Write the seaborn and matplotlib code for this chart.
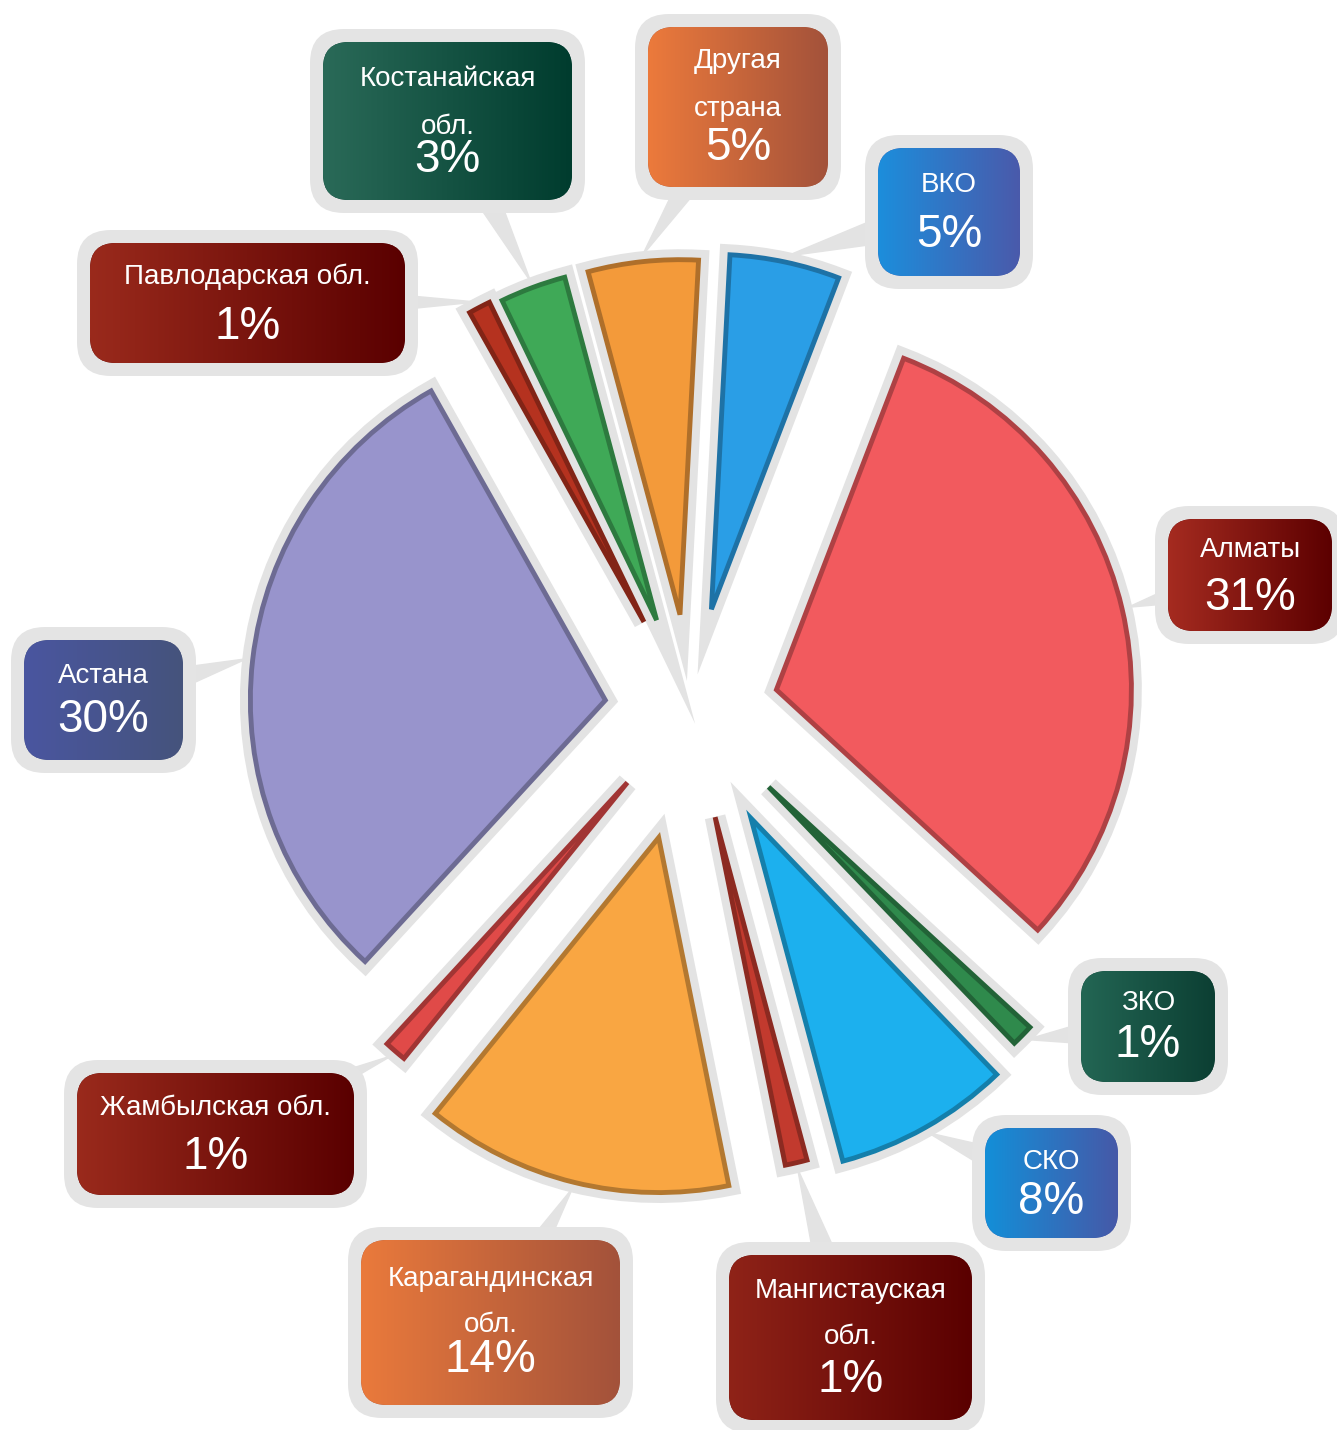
import numpy as np
import matplotlib
matplotlib.use('Agg')
import matplotlib.pyplot as plt
from matplotlib.patches import FancyBboxPatch, Polygon
from matplotlib.colors import LinearSegmentedColormap, to_rgb
import seaborn as sns

sns.set_theme(style='white')
plt.rcParams['font.family'] = ['Liberation Sans', 'DejaVu Sans']

# данные (по часовой стрелке от верхней точки)
regions = ['Другая\nстрана', 'ВКО', 'Алматы', 'ЗКО', 'СКО',
           'Мангистауская\nобл.', 'Карагандинская\nобл.', 'Жамбылская обл.',
           'Астана', 'Павлодарская обл.', 'Костанайская\nобл.']
shares = [5, 5, 31, 1, 8, 1, 14, 1, 30, 1, 3]

slice_colors = ['#f39a3a', '#2a9ee6', '#f25a5e', '#2f8a4c', '#1cb0ee', '#c23a2e',
                '#f9a642', '#e04a48', '#9894cc', '#b5321f', '#3fa957']
box_left = ['#ec7a3c', '#1c8edc', '#a52b20', '#236654', '#138fd8', '#8f2318',
            '#ea7a3c', '#9a2a1c', '#4a56a0', '#9a2a1c', '#2a6a58']
box_right = ['#a3523a', '#4a5aab', '#5c0000', '#0c3f33', '#4659a8', '#5a0000',
             '#a3523a', '#5a0000', '#45537c', '#5a0000', '#003c2e']
explode = [0.27, 0.29, 0.25, 0.31, 0.35, 0.31, 0.37, 0.27, 0.24, 0.28, 0.27]

# расположение выносок в пикселях: x0, y0, x1, y1, y подписи, y процента
boxes = [(648, 27, 828, 187, 85, 148),
         (878, 148, 1020, 276, 185, 235),
         (1168, 519, 1332, 631, 550, 598),
         (1081, 971, 1215, 1082, 1003, 1045),
         (985, 1128, 1118, 1238, 1162, 1202),
         (729, 1255, 972, 1420, 1314, 1380),
         (361, 1240, 620, 1405, 1302, 1360),
         (77, 1073, 354, 1195, 1108, 1157),
         (24, 640, 183, 760, 676, 720),
         (90, 243, 405, 363, 277, 327),
         (323, 42, 572, 200, 103, 160)]

W, H = 1337, 1430
R = 355
CENTER = (690, H - 710)
fig = plt.figure(figsize=(W / 100, H / 100), dpi=100)
ax = fig.add_axes([0, 0, 1, 1])


def darker(c, k=0.7):
    return tuple(v * k for v in to_rgb(c))


# серая подложка под секторами и сами секторы
# (explode в pie задаётся в абсолютных единицах, поэтому домножаем на радиус)
halo, _ = ax.pie(shares, colors=['#e3e3e3'] * len(shares), explode=[e * R for e in explode],
                 startangle=105, counterclock=False, radius=R, center=CENTER,
                 wedgeprops=dict(edgecolor='#e3e3e3', linewidth=15, joinstyle='miter'))
wedges, _ = ax.pie(shares, colors=slice_colors, explode=[e * R for e in explode],
                   startangle=105, counterclock=False, radius=R, center=CENTER,
                   wedgeprops=dict(linewidth=3.5, joinstyle='miter'))
for h in halo:
    h.set_zorder(1.5)
for w, c in zip(wedges, slice_colors):
    w.set_edgecolor(darker(c, 0.72))
    w.set_zorder(2)

grad = np.linspace(0, 1, 256).reshape(1, -1)

for w, name, val, box, cl, cr in zip(wedges, regions, shares, boxes, box_left, box_right):
    x0, y0, x1, y1, ny, py = box
    bw, bh = x1 - x0, y1 - y0
    cx, cy = (x0 + x1) / 2, H - (y0 + y1) / 2

    # хвостик выноски к сектору
    mid = np.deg2rad((w.theta1 + w.theta2) / 2)
    tip = (w.center[0] + (w.r + 6) * np.cos(mid), w.center[1] + (w.r + 6) * np.sin(mid))
    d = np.array([tip[0] - cx, tip[1] - cy])
    n = np.array([-d[1], d[0]]) / np.hypot(*d) * 22
    ax.add_patch(Polygon([(cx + n[0], cy + n[1]), (cx - n[0], cy - n[1]), tip],
                         closed=True, color='#e3e3e3', zorder=1))

    # подложка и сама выноска с градиентом
    ax.add_patch(FancyBboxPatch((x0 - 13, H - y1 - 13), bw + 26, bh + 26,
                                boxstyle='round,pad=0,rounding_size=34',
                                facecolor='#e4e4e4', edgecolor='none', zorder=3))
    patch = FancyBboxPatch((x0, H - y1), bw, bh, boxstyle='round,pad=0,rounding_size=26',
                           facecolor=cr, edgecolor='none', zorder=4)
    ax.add_patch(patch)
    cmap = LinearSegmentedColormap.from_list('box', [cl, cr])
    im = ax.imshow(grad, cmap=cmap, extent=(x0, x1, H - y1, H - y0), aspect='auto',
                   zorder=4.5, interpolation='bilinear')
    im.set_clip_path(patch)

    ax.text(cx, H - ny, name, color='white', fontsize=20, ha='center', va='center',
            linespacing=2.05, zorder=5)
    ax.text(cx, H - py, f'{val}%', color='white', fontsize=33, ha='center', va='center',
            zorder=5)

ax.set_xlim(0, W)
ax.set_ylim(0, H)
ax.set_aspect('auto')
ax.axis('off')

fig.savefig('out.png', dpi=100, facecolor='white')
